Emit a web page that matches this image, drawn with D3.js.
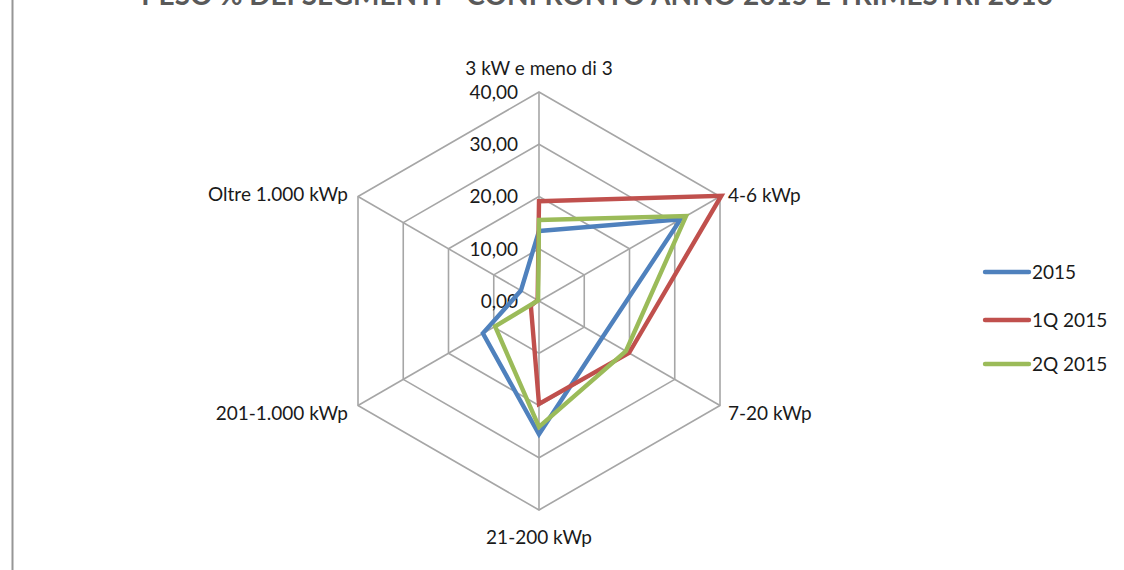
<!DOCTYPE html>
<html>
<head>
<meta charset="utf-8">
<script src="https://cdn.jsdelivr.net/npm/d3@7/dist/d3.min.js"></script>
<style>
  html, body { margin: 0; padding: 0; background: #ffffff; }
  svg { display: block; font-family: Lato, "Open Sans", sans-serif; }
</style>
</head>
<body>
<svg id="chart" width="1124" height="570"></svg>
<script>
// Segment categories (radar axes, clockwise from the top)
const categories = ["3 kW e meno di 3", "4-6 kWp", "7-20 kWp", "21-200 kWp", "201-1.000 kWp", "Oltre 1.000 kWp"];
// Share (%) per segment
const series2015 = [13.4, 31.3, 14.0, 25.5, 12.4, 4.0];
const series1Q2015 = [19.1, 40.3, 19.9, 19.7, 1.8, 0.3];
const series2Q2015 = [15.5, 32.5, 19.2, 24.1, 9.7, 0.2];
const seriesNames = ["2015", "1Q 2015", "2Q 2015"];
const seriesColors = ["#4F81BD", "#C0504D", "#9BBB59"];
const tickValues = [0, 10, 20, 30, 40];
const tickLabels = ["0,00", "10,00", "20,00", "30,00", "40,00"];
const titleText = "PESO % DEI SEGMENTI - CONFRONTO ANNO 2015 E TRIMESTRI 2016";

const seriesData = [series2015, series1Q2015, series2Q2015];

const svg = d3.select("#chart");
const cx = 539, cy = 301, R = 209;
const fontSize = 19;

// frame edge on the left
svg.append("line")
  .attr("x1", 12.5).attr("x2", 12.5).attr("y1", 0).attr("y2", 570)
  .attr("stroke", "#969696").attr("stroke-width", 2);

// title (sits at the very top edge of the frame)
svg.append("text")
  .attr("x", 597).attr("y", 5)
  .attr("text-anchor", "middle")
  .attr("font-size", 28).attr("font-weight", "bold")
  .attr("fill", "#595959")
  .text(titleText);

const r = d3.scaleLinear().domain([0, 40]).range([0, R]);
const angle = d3.scaleLinear().domain([0, categories.length]).range([0, 2 * Math.PI]);

const g = svg.append("g").attr("transform", `translate(${cx},${cy})`);

function pt(i, v) {
  const a = angle(i);
  return [Math.sin(a) * r(v), -Math.cos(a) * r(v)];
}

// grid rings
tickValues.filter(t => t > 0).forEach(t => {
  g.append("path")
    .attr("d", d3.line()(categories.map((c, i) => pt(i, t))) + "Z")
    .attr("fill", "none").attr("stroke", "#A6A6A6").attr("stroke-width", 1.6);
});

// spokes
categories.forEach((c, i) => {
  const [x, y] = pt(i, 40);
  g.append("line").attr("x1", 0).attr("y1", 0).attr("x2", x).attr("y2", y)
    .attr("stroke", "#A6A6A6").attr("stroke-width", 1.6);
});

// value ticks along the top spoke
tickValues.forEach((t, k) => {
  g.append("text")
    .attr("x", -21).attr("y", -r(t))
    .attr("dy", "0.36em")
    .attr("text-anchor", "end")
    .attr("font-size", fontSize).attr("fill", "#1a1a1a")
    .text(tickLabels[k]);
});

// category labels
const labelPos = [
  { dx: 0, dy: -24, anchor: "middle" },
  { dx: 8, dy: -1, anchor: "start" },
  { dx: 8, dy: 8, anchor: "start" },
  { dx: 0, dy: 27, anchor: "middle" },
  { dx: -10, dy: 8, anchor: "end" },
  { dx: -10, dy: -2, anchor: "end" }
];
categories.forEach((c, i) => {
  const [x, y] = pt(i, 40);
  g.append("text")
    .attr("x", x + labelPos[i].dx).attr("y", y + labelPos[i].dy)
    .attr("dy", "0.36em")
    .attr("text-anchor", labelPos[i].anchor)
    .attr("font-size", fontSize).attr("fill", "#1a1a1a")
    .text(c);
});

// series polygons
const lineGen = d3.line().curve(d3.curveLinearClosed);
seriesData.forEach((vals, s) => {
  g.append("path")
    .attr("d", lineGen(vals.map((v, i) => pt(i, v))))
    .attr("fill", "none")
    .attr("stroke", seriesColors[s])
    .attr("stroke-width", 4.4)
    .attr("stroke-linejoin", "miter");
});

// legend
const legendY = [272, 320, 364];
seriesNames.forEach((n, s) => {
  const lg = svg.append("g").attr("transform", `translate(985,${legendY[s]})`);
  lg.append("line").attr("x1", 0).attr("x2", 44).attr("y1", 0).attr("y2", 0)
    .attr("stroke", seriesColors[s]).attr("stroke-width", 4.4).attr("stroke-linecap", "round");
  lg.append("text").attr("x", 47).attr("y", 0).attr("dy", "0.36em")
    .attr("font-size", fontSize).attr("fill", "#1a1a1a").text(n);
});
</script>
</body>
</html>
